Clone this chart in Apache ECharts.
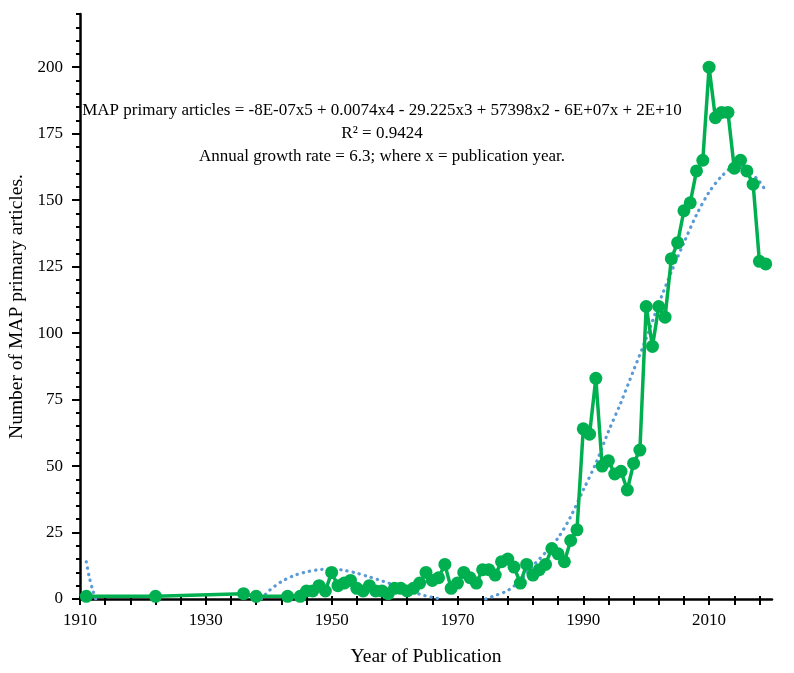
<!DOCTYPE html>
<html>
<head>
<meta charset="utf-8">
<script src="https://cdn.jsdelivr.net/npm/echarts@6/dist/echarts.min.js"></script>
<style>html,body{margin:0;padding:0;background:#fff;}#c{width:794px;height:673px;}</style>
</head>
<body>
<div id="c"></div>
<script>
var years = [1911,1922,1936,1938,1943,1945,1946,1947,1948,1949,1950,1951,1952,1953,1954,1955,1956,1957,1958,1959,1960,1961,1962,1963,1964,1965,1966,1967,1968,1969,1970,1971,1972,1973,1974,1975,1976,1977,1978,1979,1980,1981,1982,1983,1984,1985,1986,1987,1988,1989,1990,1991,1992,1993,1994,1995,1996,1997,1998,1999,2000,2001,2002,2003,2004,2005,2006,2007,2008,2009,2010,2011,2012,2013,2014,2015,2016,2017,2018,2019];
var articles = [1,1,2,1,1,1,3,3,5,3,10,5,6,7,4,3,5,3,3,2,4,4,3,4,6,10,7,8,13,4,6,10,8,6,11,11,9,14,15,12,6,13,9,11,13,19,17,14,22,26,64,62,83,50,52,47,48,41,51,56,110,95,110,106,128,134,146,149,161,165,200,181,183,183,162,165,161,156,127,126];

// polynomial trendline (null = curve below 0, hidden)
var trendYears = [1911,1911.5,1912,1912.5,null,1938.8,1940,1942,1944,1946,1948,1950,1952,1954,1956,1958,1960,1962,1964,1966,1967.5,null,1974.5,1976,1978,1980,1982,1984,1986,1988,1990,1992,1994,1996,1998,2000,2002,2004,2006,2008,2010,2012,2014,2016,2018,2019];
var trendValues = [14,8,3.5,0,null,0,3,6.5,8.8,10.2,11,11.3,10.8,9.7,8.3,6.8,5.2,3.5,1.8,0.6,0,null,0,1.3,3.2,7,12.5,17.5,23,31,41,51,63,74,86,98,111,123,134,144.5,153,159,162.5,161.5,157,153.5];

var xTickValues = [1910,1914,1918,1922,1926,1930,1934,1938,1942,1946,1950,1954,1958,1962,1966,1970,1974,1978,1982,1986,1990,1994,1998,2002,2006,2010,2014,2018];
var xLabelValues = [1910,1930,1950,1970,1990,2010];
var yMajorValues = [0,25,50,75,100,125,150,175,200];
var yMinorValues = [0,5,10,15,20,25,30,35,40,45,50,55,60,65,70,75,80,85,90,95,100,105,110,115,120,125,130,135,140,145,150,155,160,165,170,175,180,185,190,195,200,205,210,215,220];

var eqLines = [
  'MAP primary articles = -8E-07x5 + 0.0074x4 - 29.225x3 + 57398x2 - 6E+07x + 2E+10',
  'R\u00B2 = 0.9424',
  'Annual growth rate = 6.3; where x = publication year.'
];

var FONT = '"Liberation Serif", "DejaVu Serif", serif';

var mainData = years.map(function(y, i){ return [y, articles[i]]; });
var trendData = trendYears.map(function(y, i){ return y === null ? [null, null] : [y, trendValues[i]]; });

var chart = echarts.init(document.getElementById('c'), null, {renderer: 'canvas'});
var xCommon = {type: 'value', min: 1910, max: 2020, splitLine: {show: false}};
var yCommon = {type: 'value', min: 0, max: 220, splitLine: {show: false}};
chart.setOption({
  animation: false,
  backgroundColor: '#fff',
  grid: {left: 80, right: 22, top: 14, bottom: 74, containLabel: false, outerBoundsMode: 'none'},
  xAxis: [
    Object.assign({}, xCommon, {
      position: 'bottom',
      name: 'Year of Publication', nameLocation: 'middle', nameGap: 48,
      nameTextStyle: {fontFamily: FONT, fontSize: 19.5, color: '#000'},
      axisLine: {show: true, lineStyle: {color: '#000', width: 2.5}},
      axisTick: {show: true, inside: false, length: 6, customValues: xTickValues, lineStyle: {color: '#000', width: 2}},
      axisLabel: {show: true, customValues: xLabelValues, margin: 13, fontFamily: FONT, fontSize: 17, color: '#000',
        formatter: function(v){ return String(v); }}
    }),
    Object.assign({}, xCommon, {
      position: 'bottom',
      axisLine: {show: false},
      axisTick: {show: true, inside: true, length: 3, customValues: xTickValues, lineStyle: {color: '#000', width: 2}},
      axisLabel: {show: false}
    })
  ],
  yAxis: [
    Object.assign({}, yCommon, {
      position: 'left',
      name: 'Number of MAP primary articles.', nameLocation: 'middle', nameGap: 52,
      nameTextStyle: {fontFamily: FONT, fontSize: 19.5, color: '#000'},
      axisLine: {show: true, lineStyle: {color: '#000', width: 2.5}},
      axisTick: {show: true, inside: false, length: 8, customValues: yMajorValues, lineStyle: {color: '#000', width: 2}},
      axisLabel: {show: true, customValues: yMajorValues, margin: 17, fontFamily: FONT, fontSize: 17, color: '#000',
        formatter: function(v){ return String(v); }}
    }),
    Object.assign({}, yCommon, {
      position: 'left',
      axisLine: {show: false},
      axisTick: {show: true, inside: false, length: 4, customValues: yMinorValues, lineStyle: {color: '#000', width: 2}},
      axisLabel: {show: false}
    })
  ],
  graphic: eqLines.map(function(t, i){
    return {type: 'text', x: 382, y: 111 + i * 23, silent: true,
      style: {text: t, textAlign: 'center', textVerticalAlign: 'middle', font: '17px ' + FONT, fill: '#000'}};
  }),
  series: [
    {
      type: 'line', name: 'trend', xAxisIndex: 0, yAxisIndex: 0,
      data: trendData, smooth: 0.3, connectNulls: false, showSymbol: false, symbol: 'none',
      lineStyle: {color: '#5b9bd5', width: 3.2, type: [0.3, 6], cap: 'round'},
      z: 3
    },
    {
      type: 'line', name: 'articles', xAxisIndex: 0, yAxisIndex: 0,
      data: mainData, symbol: 'circle', symbolSize: 13, showAllSymbol: true,
      lineStyle: {color: '#00b050', width: 3.5},
      itemStyle: {color: '#00b050', borderWidth: 0},
      z: 4
    }
  ]
});
</script>
</body>
</html>
